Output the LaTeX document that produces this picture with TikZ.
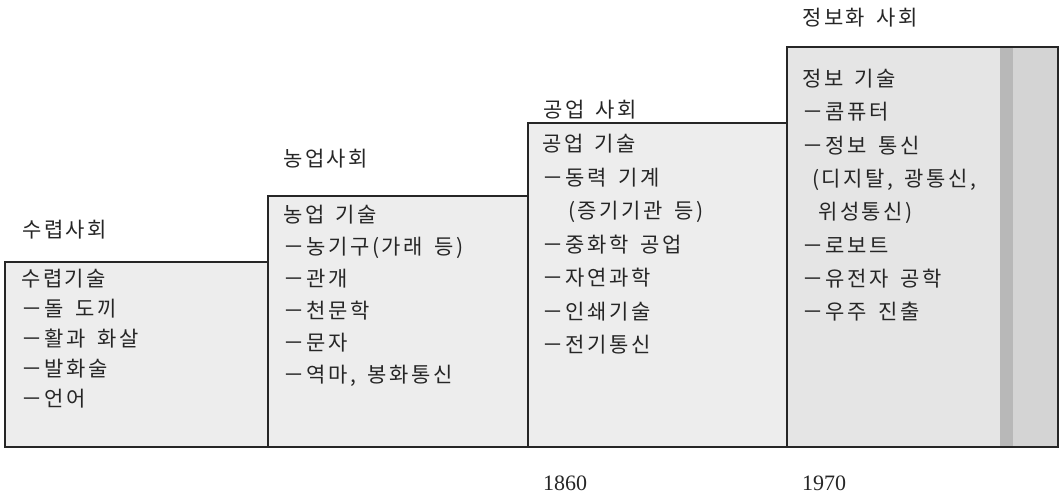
\documentclass[tikz,border=0pt]{standalone}
\usepackage{fontspec}
\setmainfont{Liberation Serif}
\newfontfamily\kr{Noto Sans CJK KR}[WordSpace=1.6,LetterSpace=12]
\begin{document}
\begin{tikzpicture}[x=1pt,y=-1pt,
  stage/.style={draw=black!85, line width=1.6pt, fill=black!7, anchor=north west, inner sep=0pt, outer sep=0pt},
  title/.style={anchor=base west, font=\kr\fontsize{21}{30}\selectfont, inner sep=0pt, text=black!85},
  body/.style={anchor=north west, align=left, inner sep=0pt, text=black!85},
  year/.style={anchor=base west, font=\fontsize{22}{25}\selectfont, inner sep=0pt, text=black!85}]
\useasboundingbox (0,0) rectangle (1064,494);
% boxes
\node[stage, minimum width=263pt, minimum height=185pt] (b1) at (5,262) {};
\node[stage, minimum width=260pt, minimum height=251pt] (b2) at (268,196) {};
\node[stage, minimum width=259pt, minimum height=324pt] (b3) at (528,123) {};
\node[stage, minimum width=271pt, minimum height=400pt, fill=black!10] (b4) at (787,47) {};
\fill[black!28] (1000,48) rectangle (1013,446);
\fill[black!17] (1013,48) rectangle (1057,446);
% titles
\node[title] (t1) at (22,237) {수렵사회};
\node[title] (t2) at (283,167) {농업사회};
\node[title] (t3) at (543,118) {공업 사회};
\node[title] (t4) at (802,26) {정보화 사회};
% contents
\node[body, font=\kr\fontsize{21}{30}\selectfont] (c1) at (21,269) {수렵기술\\－돌 도끼\\－활과 화살\\－발화술\\－언어};
\node[body, font=\kr\fontsize{21}{32}\selectfont] (c2) at (283,205) {농업 기술\\－농기구(가래 등)\\－관개\\－천문학\\－문자\\－역마, 봉화통신};
\node[body, font=\kr\fontsize{21}{33.5}\selectfont] (c3) at (542,134) {공업 기술\\－동력 기계\\\hspace*{26pt}(증기기관 등)\\－중화학 공업\\－자연과학\\－인쇄기술\\－전기통신};
\node[body, font=\kr\fontsize{21}{33.3}\selectfont] (c4) at (802,69) {정보 기술\\－콤퓨터\\－정보 통신\\\hspace*{10pt}(디지탈, 광통신,\\\hspace*{16pt}위성통신)\\－로보트\\－유전자 공학\\－우주 진출};
% years
\node[year] (y1) at (543,490) {1860};
\node[year] (y2) at (802,490) {1970};
\end{tikzpicture}
\end{document}
